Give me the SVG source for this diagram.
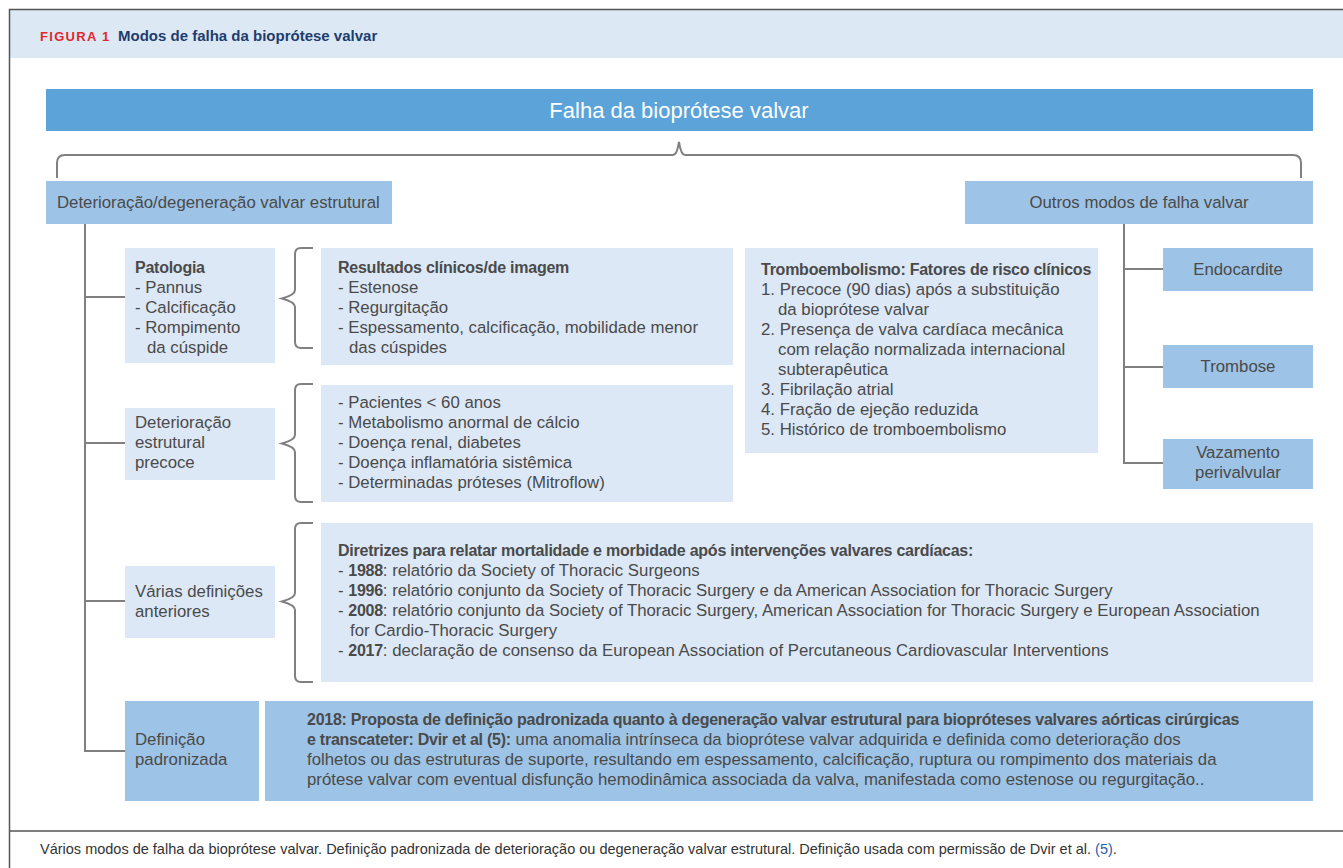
<svg xmlns="http://www.w3.org/2000/svg" width="1343" height="868" viewBox="0 0 1343 868">
<style>
.t{font-family:"Liberation Sans",Arial,sans-serif;font-size:16.8px;fill:#4a4a4a}
.b{font-weight:bold;font-size:16px;letter-spacing:-0.25px}
.c{text-anchor:middle}
.ln{fill:none;stroke:#808080;stroke-width:2}
.lb{fill:#dce8f6}
.mb{fill:#9dc3e6}
.fr{fill:none;stroke:#555;stroke-width:1.5}
</style>
<rect x="0" y="0" width="1343" height="868" fill="#fff"/>
<g id="frame">
<rect x="10" y="10" width="1333" height="48" fill="#dde8f5"/>
<path class="fr" d="M9.5,868 V9.5 H1343 M9.5,831 H1343"/>
<text x="40" y="41" font-family="Liberation Sans,Arial,sans-serif" font-size="13" font-weight="bold" fill="#e0282e" letter-spacing="1.3">FIGURA 1</text>
<text x="118" y="41" font-family="Liberation Sans,Arial,sans-serif" font-size="15" font-weight="bold" fill="#1f3c6e">Modos de falha da bioprótese valvar</text>
<text x="40" y="854" font-family="Liberation Sans,Arial,sans-serif" font-size="14.5" fill="#333">Vários modos de falha da bioprótese valvar. Definição padronizada de deterioração ou degeneração valvar estrutural. Definição usada com permissão de Dvir et al. <tspan fill="#2a5db0">(5)</tspan>.</text>
</g>
<g id="connectors">
<path class="ln" d="M57,178 V163 Q57,155 65,155 H673 Q677,155 679,142 Q681,155 685,155 H1293 Q1301,155 1301,163 V178"/>
<path class="ln" d="M85,224 V751 H125 M85,297 H125 M85,443 H125 M85,601 H125"/>
<path class="ln" d="M1124,224 V463 H1163 M1124,269 H1163 M1124,367 H1163"/>
<path class="ln" d="M313,248 H301 Q295,248 295,254 V290 Q295,295 282,298.5 Q295,302 295,307 V342 Q295,348 301,348 H313"/>
<path class="ln" d="M313,384 H301 Q295,384 295,390 V435 Q295,440 282,443.5 Q295,447 295,452 V496 Q295,502 301,502 H313"/>
<path class="ln" d="M313,523 H301 Q295,523 295,529 V593 Q295,598 282,601.5 Q295,605 295,610 V676 Q295,682 301,682 H313"/>
</g>
<g id="title">
<rect x="46" y="89" width="1267" height="42" fill="#5ba3d9"/>
<text class="t c" x="679" y="117.5" style="fill:#fff;font-size:22px">Falha da bioprótese valvar</text>
</g>
<g id="estrutural">
<rect class="mb" x="46" y="181" width="346" height="43"/>
<text class="t" x="57" y="208">Deterioração/degeneração valvar estrutural</text>
</g>
<g id="outros">
<rect class="mb" x="965" y="181" width="348" height="43"/>
<text class="t c" x="1139" y="208">Outros modos de falha valvar</text>
</g>
<g id="patologia">
<rect class="lb" x="125" y="248" width="150" height="115"/>
<text class="t" x="135" y="273"><tspan class="b">Patologia</tspan><tspan x="135" dy="20">- Pannus</tspan><tspan x="135" dy="20">- Calcificação</tspan><tspan x="135" dy="20">- Rompimento</tspan><tspan x="147" dy="20">da cúspide</tspan></text>
</g>
<g id="resultados">
<rect class="lb" x="321" y="248" width="412" height="117"/>
<text class="t" x="338" y="273"><tspan class="b">Resultados clínicos/de imagem</tspan><tspan x="338" dy="20">- Estenose</tspan><tspan x="338" dy="20">- Regurgitação</tspan><tspan x="338" dy="20">- Espessamento, calcificação, mobilidade menor</tspan><tspan x="349" dy="20">das cúspides</tspan></text>
</g>
<g id="precoce">
<rect class="lb" x="125" y="408" width="150" height="72"/>
<text class="t" x="135" y="428"><tspan>Deterioração</tspan><tspan x="135" dy="20">estrutural</tspan><tspan x="135" dy="20">precoce</tspan></text>
</g>
<g id="fatores">
<rect class="lb" x="321" y="385" width="412" height="117"/>
<text class="t" x="338" y="408"><tspan>- Pacientes &lt; 60 anos</tspan><tspan x="338" dy="20">- Metabolismo anormal de cálcio</tspan><tspan x="338" dy="20">- Doença renal, diabetes</tspan><tspan x="338" dy="20">- Doença inflamatória sistêmica</tspan><tspan x="338" dy="20">- Determinadas próteses (Mitroflow)</tspan></text>
</g>
<g id="tromboembolismo">
<rect class="lb" x="745" y="248" width="353" height="205"/>
<text class="t" x="761" y="275"><tspan class="b">Tromboembolismo: Fatores de risco clínicos</tspan><tspan x="761" dy="20">1. Precoce (90 dias) após a substituição</tspan><tspan x="778" dy="20">da bioprótese valvar</tspan><tspan x="761" dy="20">2. Presença de valva cardíaca mecânica</tspan><tspan x="778" dy="20">com relação normalizada internacional</tspan><tspan x="778" dy="20">subterapêutica</tspan><tspan x="761" dy="20">3. Fibrilação atrial</tspan><tspan x="761" dy="20">4. Fração de ejeção reduzida</tspan><tspan x="761" dy="20">5. Histórico de tromboembolismo</tspan></text>
</g>
<g id="endocardite">
<rect class="mb" x="1163" y="248" width="150" height="43"/>
<text class="t c" x="1238" y="275">Endocardite</text>
</g>
<g id="trombose">
<rect class="mb" x="1163" y="345" width="150" height="43"/>
<text class="t c" x="1238" y="372">Trombose</text>
</g>
<g id="vazamento">
<rect class="mb" x="1163" y="439" width="150" height="50"/>
<text class="t c" x="1238" y="458"><tspan>Vazamento</tspan><tspan x="1238" dy="20">perivalvular</tspan></text>
</g>
<g id="varias">
<rect class="lb" x="125" y="566" width="150" height="72"/>
<text class="t" x="135" y="597"><tspan>Várias definições</tspan><tspan x="135" dy="20">anteriores</tspan></text>
</g>
<g id="diretrizes">
<rect class="lb" x="321" y="523" width="992" height="159"/>
<text class="t" x="338" y="556"><tspan class="b">Diretrizes para relatar mortalidade e morbidade após intervenções valvares cardíacas:</tspan><tspan x="338" dy="20">- <tspan class="b">1988</tspan>: relatório da Society of Thoracic Surgeons</tspan><tspan x="338" dy="20">- <tspan class="b">1996</tspan>: relatório conjunto da Society of Thoracic Surgery e da American Association for Thoracic Surgery</tspan><tspan x="338" dy="20">- <tspan class="b">2008</tspan>: relatório conjunto da Society of Thoracic Surgery, American Association for Thoracic Surgery e European Association</tspan><tspan x="350" dy="20">for Cardio-Thoracic Surgery</tspan><tspan x="338" dy="20">- <tspan class="b">2017</tspan>: declaração de consenso da European Association of Percutaneous Cardiovascular Interventions</tspan></text>
</g>
<g id="definicao">
<rect class="mb" x="125" y="701" width="134" height="100"/>
<text class="t" x="135" y="745"><tspan>Definição</tspan><tspan x="135" dy="20">padronizada</tspan></text>
</g>
<g id="proposta">
<rect class="mb" x="265" y="701" width="1048" height="100"/>
<text class="t" x="307" y="725"><tspan class="b">2018: Proposta de definição padronizada quanto à degeneração valvar estrutural para biopróteses valvares aórticas cirúrgicas</tspan><tspan x="307" dy="20"><tspan class="b">e transcateter: Dvir et al (5):</tspan> uma anomalia intrínseca da bioprótese valvar adquirida e definida como deterioração dos</tspan><tspan x="307" dy="20">folhetos ou das estruturas de suporte, resultando em espessamento, calcificação, ruptura ou rompimento dos materiais da</tspan><tspan x="307" dy="20">prótese valvar com eventual disfunção hemodinâmica associada da valva, manifestada como estenose ou regurgitação..</tspan></text>
</g>
</svg>
